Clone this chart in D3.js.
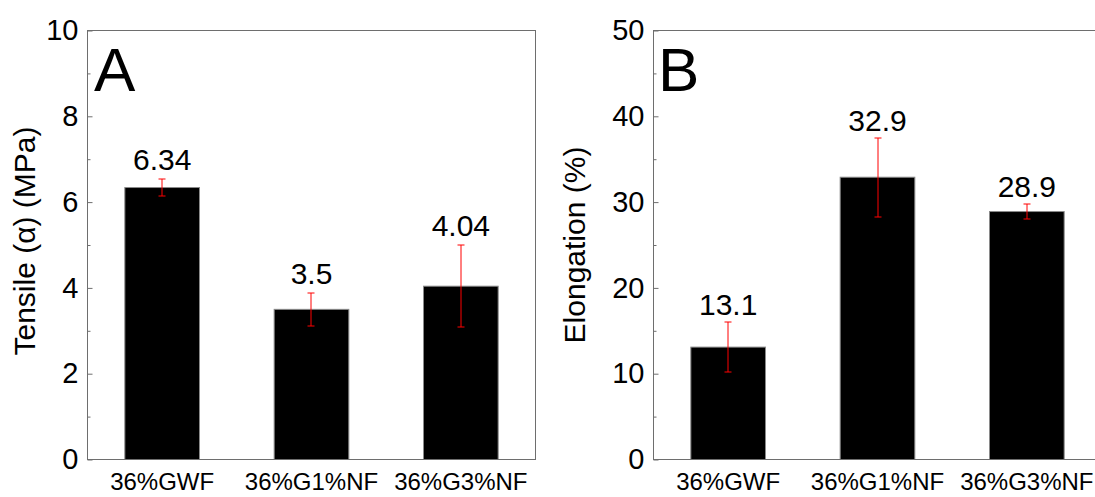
<!DOCTYPE html>
<html>
<head>
<meta charset="utf-8">
<script src="https://cdn.jsdelivr.net/npm/d3@7"></script>
<style>
  html, body { margin: 0; padding: 0; background: #fff; }
  svg { display: block; font-family: "Liberation Sans", Arial, sans-serif; }
</style>
</head>
<body>
<svg id="chart" width="1095" height="497"></svg>
<script>
// ---- data ----
const categories = ["36%GWF", "36%G1%NF", "36%G3%NF"];
const tensileValues = [6.34, 3.5, 4.04];
const tensileErrors = [0.2, 0.38, 0.96];
const elongationValues = [13.1, 32.9, 28.9];
const elongationErrors = [2.95, 4.6, 0.9];
const tensileTicks = [0, 2, 4, 6, 8, 10];
const tensileMinorTicks = [1, 3, 5, 7, 9];
const elongationTicks = [0, 10, 20, 30, 40, 50];
const elongationMinorTicks = [5, 15, 25, 35, 45];

const svg = d3.select("#chart");

function panel(opts) {
  const { left, right, top, bottom, values, errors, domainMax, ticks, minorTicks,
          title, titleX, titleY, letter, letterX, labelGap } = opts;
  const g = svg.append("g");
  const x = d3.scaleBand().domain(categories).range([left, right])
    .paddingInner(0.5).paddingOuter(0.25);
  const y = d3.scaleLinear().domain([0, domainMax]).range([bottom, top]);

  // bars
  g.selectAll("rect.bar").data(values).join("rect")
    .attr("class", "bar")
    .attr("x", (d, i) => x(categories[i]))
    .attr("width", x.bandwidth())
    .attr("y", d => y(d))
    .attr("height", d => y(0) - y(d))
    .attr("fill", "#000")
    .attr("stroke", "#8a8a8a")
    .attr("stroke-width", 1);

  // error bars
  const eg = g.append("g").attr("stroke", "#ff0000").attr("stroke-width", 1).attr("fill", "none");
  values.forEach((v, i) => {
    const cx = Math.round(x(categories[i]) + x.bandwidth() / 2);
    const yt = Math.round(y(v + errors[i]));
    const yb = Math.round(y(v - errors[i]));
    eg.append("line").attr("x1", cx).attr("x2", cx).attr("y1", yt).attr("y2", yb);
    eg.append("line").attr("x1", cx - 3.5).attr("x2", cx + 3.5).attr("y1", yt).attr("y2", yt);
    eg.append("line").attr("x1", cx - 3.5).attr("x2", cx + 3.5).attr("y1", yb).attr("y2", yb);
  });

  // value labels
  g.selectAll("text.val").data(values).join("text")
    .attr("class", "val")
    .attr("x", (d, i) => x(categories[i]) + x.bandwidth() / 2)
    .attr("y", (d, i) => y(d + errors[i]) - labelGap)
    .attr("text-anchor", "middle")
    .attr("font-size", 30)
    .attr("fill", "#000")
    .text(d => String(d));

  // frame
  g.append("rect")
    .attr("x", left).attr("y", top)
    .attr("width", right - left).attr("height", bottom - top)
    .attr("fill", "none").attr("stroke", "#6e6e6e").attr("stroke-width", 1);

  // y axis (major)
  const ya = g.append("g").attr("transform", `translate(${left},0)`)
    .call(d3.axisLeft(y).tickValues(ticks).tickSizeInner(-5).tickSizeOuter(0).tickPadding(9));
  ya.select(".domain").remove();
  ya.selectAll(".tick line").attr("stroke", "#6e6e6e");
  ya.selectAll(".tick text").attr("font-size", 29).attr("fill", "#000")
    .attr("font-family", "Liberation Sans, Arial, sans-serif");

  // y axis (minor)
  const ym = g.append("g").attr("transform", `translate(${left},0)`)
    .call(d3.axisLeft(y).tickValues(minorTicks).tickSizeInner(-3).tickSizeOuter(0).tickFormat(""));
  ym.select(".domain").remove();
  ym.selectAll(".tick line").attr("stroke", "#6e6e6e");

  // x axis
  const xa = g.append("g").attr("transform", `translate(0,${bottom})`)
    .call(d3.axisBottom(x).tickSize(0).tickPadding(13));
  xa.select(".domain").remove();
  xa.selectAll(".tick text").attr("font-size", 24).attr("fill", "#000")
    .attr("font-family", "Liberation Sans, Arial, sans-serif");

  // y title
  g.append("text")
    .attr("transform", `translate(${titleX},${titleY}) rotate(-90)`)
    .attr("text-anchor", "middle")
    .attr("font-size", 30)
    .attr("fill", "#000")
    .text(title);

  // panel letter
  g.append("text")
    .attr("x", letterX).attr("y", top + 60)
    .attr("font-size", 62)
    .attr("fill", "#000")
    .text(letter);
}

panel({
  left: 87.5, right: 535.5, top: 30.5, bottom: 459.5,
  values: tensileValues, errors: tensileErrors, domainMax: 10,
  ticks: tensileTicks, minorTicks: tensileMinorTicks,
  title: "Tensile (\u03b1) (MPa)", titleX: 35, titleY: 241,
  letter: "A", letterX: 94, labelGap: 9
});

panel({
  left: 653.5, right: 1101.5, top: 30.5, bottom: 459.5,
  values: elongationValues, errors: elongationErrors, domainMax: 50,
  ticks: elongationTicks, minorTicks: elongationMinorTicks,
  title: "Elongation (%)", titleX: 585, titleY: 245,
  letter: "B", letterX: 658, labelGap: 7
});
</script>
</body>
</html>
